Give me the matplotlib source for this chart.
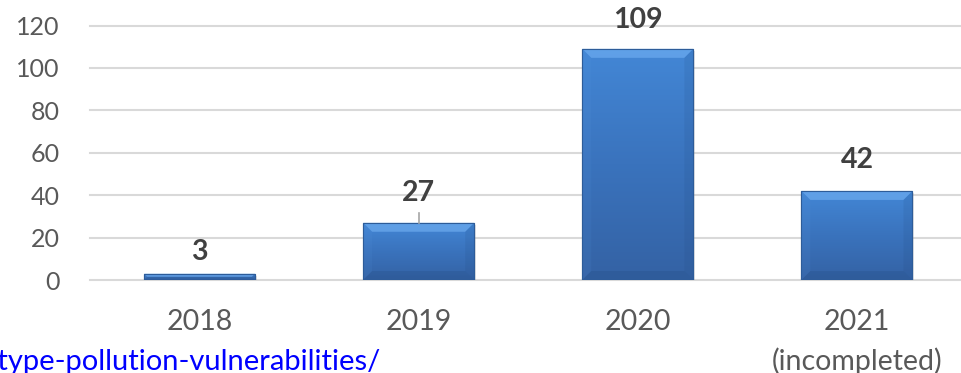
import numpy as np
import matplotlib.pyplot as plt
from matplotlib.colors import LinearSegmentedColormap
from matplotlib.patches import Polygon, Rectangle

years = ['2018', '2019', '2020', '2021\n(incompleted)']
counts = [3, 27, 109, 42]
y_ticks = [0, 20, 40, 60, 80, 100, 120]
source_text = 'prototype-pollution-vulnerabilities/'

W, H = 961, 373
plt.rcParams['font.family'] = ['Lato', 'DejaVu Sans']

fig = plt.figure(figsize=(W / 100, H / 100), dpi=100)
ax = fig.add_axes([90 / W, 1 - 280 / H, (W - 90) / W, (280 - 25.5) / H])

x = np.arange(len(counts))
x_right = (W - 200) / 219.0
px_x = (x_right + 0.5) / (W - 90)      # data units per pixel
px_y = 120 / (280 - 25.5)

# soft shadow
for xi, v in zip(x, counts):
    ax.add_patch(Rectangle((xi - 0.2535 + 2 * px_x, -2 * px_y), 0.507, v,
                           facecolor='#7f7f7f', alpha=0.2, lw=0, zorder=1.9))

bars = ax.bar(x, counts, width=0.507, color='#3F7CC8', edgecolor='#2D5C99',
              linewidth=0.8, zorder=2)

grad_cmap = LinearSegmentedColormap.from_list('bar', ['#3462A4', '#3A73BD', '#4387D6'])
for bar in bars:
    x0, y0 = bar.get_x(), bar.get_y()
    w, h = bar.get_width(), bar.get_height()
    x1, y1 = x0 + w, y0 + h
    im = ax.imshow(np.linspace(0, 1, 256).reshape(-1, 1), cmap=grad_cmap, origin='lower',
                   extent=(x0, x1, y0, y1), aspect='auto', zorder=2.1)
    im.set_clip_path(bar)
    by = min(9 * px_y, h / 2)
    bx = by / px_y * px_x
    top = Polygon([(x0, y1), (x1, y1), (x1 - bx, y1 - by), (x0 + bx, y1 - by)],
                  facecolor='#74B2F4', alpha=0.6, lw=0, zorder=2.2)
    left = Polygon([(x0, y0), (x0, y1), (x0 + bx, y1 - by), (x0 + bx, y0 + by)],
                   facecolor='#5C9AE2', alpha=0.1, lw=0, zorder=2.2)
    right = Polygon([(x1, y0), (x1, y1), (x1 - bx, y1 - by), (x1 - bx, y0 + by)],
                    facecolor='#1E4477', alpha=0.12, lw=0, zorder=2.2)
    bottom = Polygon([(x0, y0), (x1, y0), (x1 - bx, y0 + by), (x0 + bx, y0 + by)],
                     facecolor='#1E4477', alpha=0.2, lw=0, zorder=2.2)
    for p in (top, left, right, bottom):
        ax.add_patch(p)
    ax.add_patch(Rectangle((x0, y0), w, h, fill=False, edgecolor='#2D5C99', lw=0.8, zorder=2.3))

# value labels (offsets in pixels above bar top)
label_offsets = [14, 22, 21, 23]
for xi, v, off in zip(x, counts, label_offsets):
    ax.annotate(str(v), xy=(xi, v), xytext=(0, off * 0.72), textcoords='offset points',
                ha='center', va='baseline', fontsize=20.5, fontweight='bold',
                color='#404040', zorder=4, annotation_clip=False)
# leader line for the moved 2019 label
ax.plot([x[1], x[1]], [counts[1], counts[1] + 10 * px_y], color='#A6A6A6', lw=1.2, zorder=3)

ax.set_xlim(-0.5, x_right)
ax.set_ylim(0, 120)
ax.set_yticks(y_ticks)
ax.set_xticks(x)
ax.set_xticklabels(years, linespacing=1.55)
ax.grid(axis='y', color='#D9D9D9', lw=1.5)
ax.set_axisbelow(True)
for s in ax.spines.values():
    s.set_visible(False)
ax.tick_params(axis='y', length=0, pad=22, labelsize=18, labelcolor='#595959')
ax.tick_params(axis='x', length=0, pad=21, labelsize=20.5, labelcolor='#595959')
for gl in ax.get_ygridlines():
    gl.set_clip_on(False)

fig.text(380 / W, 3 / H, source_text, ha='right', va='baseline', fontsize=21, color='#0000FF')

fig.savefig('out.png', dpi=100)
